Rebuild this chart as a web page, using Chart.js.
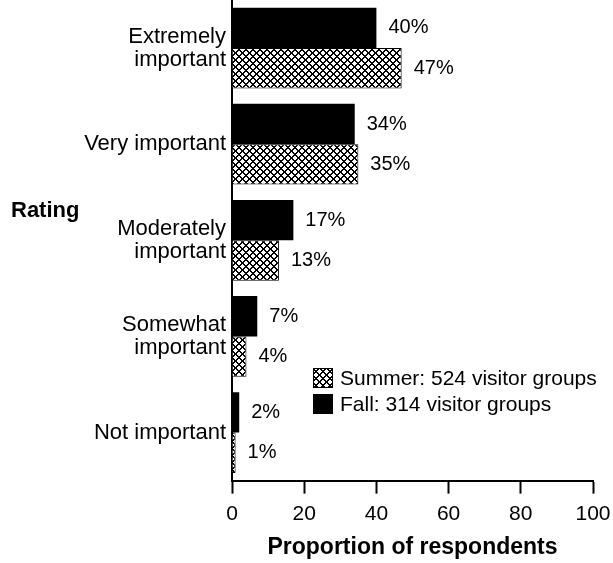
<!DOCTYPE html>
<html>
<head>
<meta charset="utf-8">
<script src="https://cdn.jsdelivr.net/npm/chart.js@4/dist/chart.umd.min.js"></script>
<style>
  html, body { margin: 0; padding: 0; background: #fff; }
  #wrap { width: 613px; height: 563px; }
</style>
</head>
<body>
<div id="wrap"><canvas id="myChart" width="613" height="563"></canvas></div>
<script>
// 평가 항목
let categories = [['Extremely', 'important'], 'Very important', ['Moderately', 'important'], ['Somewhat', 'important'], 'Not important'];
let fall_values = [40, 34, 17, 7, 2];
let summer_values = [47, 35, 13, 4, 1];
let fall_label = 'Fall: 314 visitor groups';
let summer_label = 'Summer: 524 visitor groups';
let x_ticks = [0, 20, 40, 60, 80, 100];

const FONT = "'Liberation Sans', Arial, sans-serif";

// 크로스 해치 패턴 (픽셀 단위로 선명하게)
function makeHatch() {
    let n = 7;
    let c = document.createElement('canvas');
    c.width = n; c.height = n;
    let g = c.getContext('2d');
    let img = g.createImageData(n, n);
    for (let y = 0; y < n; y++) {
        for (let x = 0; x < n; x++) {
            let a = (x + y) % n;
            let b = (x - y + n) % n;
            let dark = (a <= 1) || (b <= 1);
            let k = (y * n + x) * 4;
            let v = dark ? 0 : 255;
            img.data[k] = v; img.data[k + 1] = v; img.data[k + 2] = v; img.data[k + 3] = 255;
        }
    }
    g.putImageData(img, 0, 0);
    return g.createPattern(c, 'repeat');
}
let hatch = makeHatch();

// 막대 옆 퍼센트 라벨 + 범례 + Rating
const extras = {
    id: 'extras',
    afterDatasetsDraw(chart) {
        let ctx = chart.ctx;
        ctx.save();
        ctx.fillStyle = '#000';
        ctx.font = '20px ' + FONT;
        ctx.textAlign = 'left';
        ctx.textBaseline = 'middle';
        chart.data.datasets.forEach(function(ds, di) {
            chart.getDatasetMeta(di).data.forEach(function(bar, i) {
                ctx.fillText(ds.data[i] + '%', bar.x + 12, bar.y);
            });
        });

        // Rating
        ctx.font = 'bold 22px ' + FONT;
        ctx.fillText('Rating', 11, 211);

        // 범례 (Summer 먼저)
        let items = [chart.data.datasets[1], chart.data.datasets[0]];
        ctx.font = '21px ' + FONT;
        items.forEach(function(ds, k) {
            let ly = 368 + k * 26;
            ctx.fillStyle = ds.backgroundColor;
            ctx.fillRect(313, ly, 20, 20);
            ctx.strokeStyle = '#000';
            ctx.lineWidth = 1;
            ctx.strokeRect(313.5, ly + 0.5, 19, 19);
            ctx.fillStyle = '#000';
            ctx.fillText(ds.label, 340, ly + 11);
        });
        ctx.restore();
    }
};

let ctx = document.getElementById('myChart');
new Chart(ctx, {
    type: 'bar',
    data: {
        labels: categories,
        datasets: [{
            label: fall_label,
            data: fall_values,
            backgroundColor: '#000',
            borderColor: '#000',
            borderWidth: 0
        }, {
            label: summer_label,
            data: summer_values,
            backgroundColor: hatch,
            borderColor: '#000',
            borderWidth: 1
        }]
    },
    options: {
        indexAxis: 'y',
        responsive: false,
        animation: false,
        categoryPercentage: 0.84,
        barPercentage: 1.0,
        plugins: {
            legend: { display: false },
            tooltip: { enabled: false }
        },
        layout: {
            padding: { left: 0, right: 20, top: 0, bottom: 3 }
        },
        scales: {
            x: {
                min: 0,
                max: 100,
                afterBuildTicks: function(scale) {
                    scale.ticks = x_ticks.map(function(v) { return { value: v }; });
                },
                afterFit: function(scale) {
                    scale.paddingLeft = 0;
                    scale.paddingRight = 0;
                },
                ticks: {
                    color: '#000',
                    font: { family: FONT, size: 21, lineHeight: 1.1 },
                    padding: 9,
                    maxRotation: 0
                },
                grid: {
                    drawOnChartArea: false,
                    drawTicks: true,
                    tickLength: 13,
                    tickWidth: 2,
                    color: '#000'
                },
                border: { display: true, color: '#000', width: 2 },
                title: {
                    display: true,
                    text: 'Proportion of respondents',
                    color: '#000',
                    font: { family: FONT, size: 23, weight: 'bold', lineHeight: 1.1 },
                    padding: { top: 0, bottom: 0 }
                }
            },
            y: {
                afterFit: function(scale) {
                    scale.width = 232;
                    scale.paddingTop = 0;
                    scale.paddingBottom = 0;
                },
                ticks: {
                    color: '#000',
                    font: { family: FONT, size: 22, lineHeight: 1.05 },
                    padding: 6
                },
                grid: { drawOnChartArea: false, drawTicks: false },
                border: { display: true, color: '#000', width: 2 }
            }
        }
    },
    plugins: [extras]
});
</script>
</body>
</html>
